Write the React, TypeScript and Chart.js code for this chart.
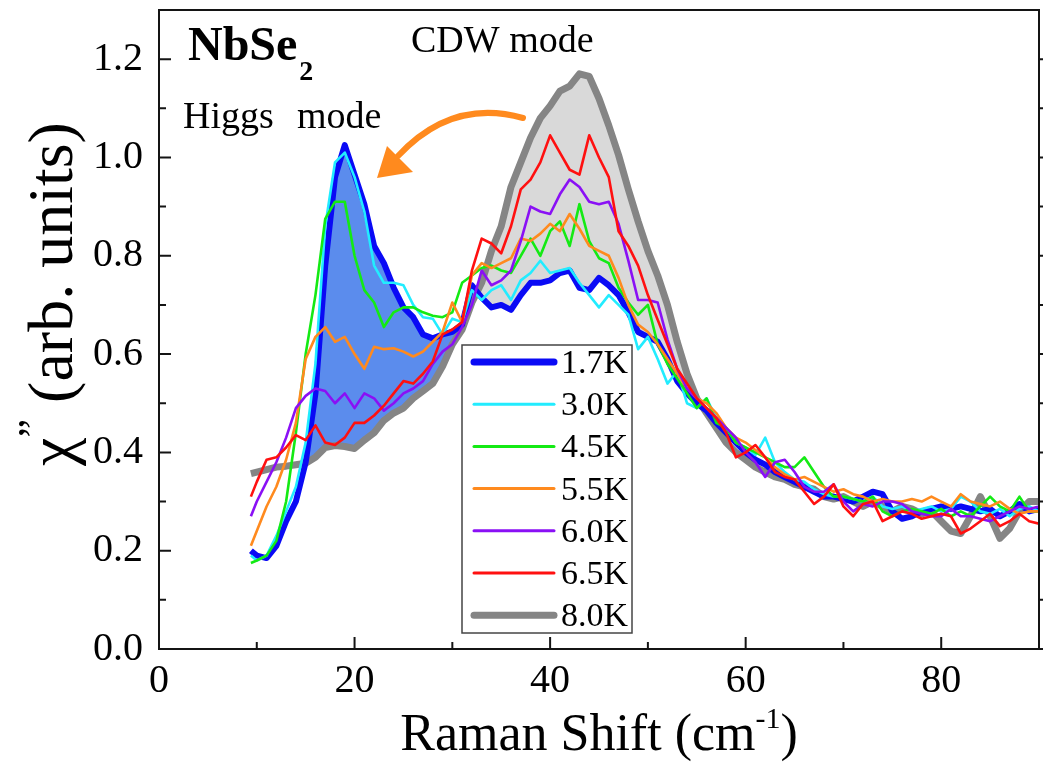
import React, { useEffect, useRef } from "react";
import { Chart, registerables } from "chart.js";

Chart.register(...registerables);

const FONT = '"Liberation Serif", "Times New Roman", serif';

// Raman shift (cm^-1), shared by every spectrum
const ramanShift = [
  9.4,
  10, 11, 12, 13, 14, 15, 16, 17, 18, 19,
  20, 21, 22, 23, 24, 25, 26, 27, 28, 29,
  30, 31, 32, 33, 34, 35, 36, 37, 38, 39,
  40, 41, 42, 43, 44, 45, 46, 47, 48, 49,
  50, 51, 52, 53, 54, 55, 56, 57, 58, 59,
  60, 61, 62, 63, 64, 65, 66, 67, 68, 69,
  70, 71, 72, 73, 74, 75, 76, 77, 78, 79,
  80, 81, 82, 83, 84, 85, 86, 87, 88, 89,
  90,
];

const chi_1_7K = [
  0.2,
  0.19, 0.185, 0.21, 0.26, 0.3, 0.38, 0.52, 0.78, 0.96, 1.025,
  0.965, 0.905, 0.82, 0.785, 0.735, 0.695, 0.675, 0.64, 0.632, 0.64,
  0.645, 0.66, 0.74, 0.715, 0.695, 0.7, 0.69, 0.72, 0.745, 0.745,
  0.75, 0.765, 0.77, 0.735, 0.73, 0.755, 0.74, 0.72, 0.685, 0.645,
  0.635, 0.625, 0.59, 0.545, 0.52, 0.5, 0.485, 0.46, 0.44, 0.42,
  0.4, 0.385, 0.375, 0.36, 0.35, 0.34, 0.33, 0.32, 0.31, 0.31,
  0.305, 0.3, 0.31, 0.32, 0.315, 0.28, 0.265, 0.27, 0.28, 0.285,
  0.29, 0.285, 0.29, 0.285, 0.28, 0.285, 0.27, 0.28, 0.295, 0.28,
  0.285,
];

const chi_3_0K = [
  0.19,
  0.18, 0.19, 0.23, 0.28, 0.33, 0.42, 0.58, 0.86, 0.99, 1.01,
  0.96, 0.89, 0.78, 0.745, 0.745, 0.74, 0.7, 0.675, 0.672, 0.64,
  0.672, 0.665, 0.73, 0.71, 0.73, 0.74, 0.71, 0.75, 0.765, 0.79,
  0.765, 0.77, 0.775, 0.745, 0.72, 0.695, 0.72, 0.7, 0.68, 0.61,
  0.635, 0.59, 0.54, 0.565, 0.5, 0.49, 0.51, 0.47, 0.45, 0.42,
  0.41, 0.395, 0.43, 0.38, 0.36, 0.345, 0.34, 0.325, 0.315, 0.31,
  0.31, 0.305, 0.3, 0.31, 0.29, 0.285, 0.29, 0.28, 0.285, 0.29,
  0.28, 0.285, 0.31, 0.3, 0.28, 0.275, 0.285, 0.27, 0.285, 0.29,
  0.28,
];

const chi_4_5K = [
  0.175,
  0.18, 0.19, 0.22, 0.3, 0.44, 0.6, 0.72, 0.875, 0.91, 0.91,
  0.8, 0.73, 0.705, 0.655, 0.685, 0.695, 0.695, 0.685, 0.678, 0.675,
  0.685, 0.745, 0.76, 0.775, 0.78, 0.77, 0.765, 0.8, 0.835, 0.8,
  0.85, 0.87, 0.82, 0.905, 0.83, 0.795, 0.785, 0.735, 0.705, 0.68,
  0.7, 0.62, 0.58, 0.55, 0.52, 0.49, 0.51, 0.46, 0.45, 0.42,
  0.41, 0.4, 0.39, 0.38, 0.37, 0.37, 0.39, 0.36, 0.33, 0.31,
  0.31, 0.305, 0.3, 0.31, 0.28, 0.27, 0.28, 0.285, 0.28, 0.275,
  0.285, 0.27, 0.28, 0.27, 0.29, 0.31, 0.29, 0.28, 0.31, 0.28,
  0.28,
];

const chi_5_5K = [
  0.21,
  0.24, 0.29, 0.33, 0.385, 0.46, 0.59, 0.635, 0.655, 0.625, 0.635,
  0.6, 0.57, 0.615, 0.61, 0.612, 0.605, 0.595, 0.605, 0.625, 0.645,
  0.705, 0.665, 0.76, 0.785, 0.775, 0.785, 0.795, 0.835, 0.83, 0.845,
  0.865, 0.85, 0.885, 0.855, 0.82, 0.81, 0.8, 0.755, 0.7, 0.66,
  0.645, 0.62, 0.59, 0.56, 0.53, 0.51, 0.5, 0.48, 0.45, 0.43,
  0.42, 0.405, 0.39, 0.37, 0.355, 0.345, 0.35, 0.34, 0.33, 0.32,
  0.325, 0.315, 0.31, 0.3, 0.305, 0.3, 0.3, 0.305, 0.3, 0.31,
  0.3, 0.29, 0.315, 0.3, 0.295, 0.29, 0.3, 0.285, 0.275, 0.28,
  0.28,
];

const chi_6_0K = [
  0.27,
  0.3, 0.34, 0.38, 0.43, 0.49, 0.515, 0.53, 0.525, 0.5, 0.52,
  0.49, 0.52, 0.51, 0.485, 0.5, 0.52, 0.53, 0.545, 0.58, 0.605,
  0.62, 0.655, 0.7, 0.77, 0.74, 0.75, 0.77, 0.83, 0.9, 0.89,
  0.885, 0.925, 0.955, 0.94, 0.91, 0.905, 0.91, 0.865, 0.79, 0.71,
  0.71, 0.705, 0.63, 0.57, 0.53, 0.51, 0.49, 0.47, 0.45, 0.43,
  0.4, 0.38, 0.35, 0.38, 0.385, 0.36, 0.33, 0.32, 0.32, 0.335,
  0.3, 0.28, 0.295, 0.29, 0.3, 0.3, 0.295, 0.28, 0.275, 0.27,
  0.27, 0.285, 0.27, 0.27, 0.265, 0.26, 0.27, 0.28, 0.29, 0.285,
  0.29,
];

const chi_6_5K = [
  0.31,
  0.34, 0.385, 0.39, 0.41, 0.435, 0.425, 0.455, 0.42, 0.415, 0.43,
  0.46, 0.46, 0.475, 0.495, 0.52, 0.545, 0.54, 0.56, 0.585, 0.64,
  0.65, 0.665, 0.77, 0.835, 0.825, 0.805, 0.86, 0.935, 0.955, 0.99,
  1.045, 1.01, 0.975, 0.965, 1.045, 1.0, 0.96, 0.85, 0.82, 0.78,
  0.72, 0.67, 0.62, 0.57, 0.54, 0.51, 0.49, 0.47, 0.44, 0.39,
  0.4, 0.415, 0.39, 0.36, 0.35, 0.345, 0.32, 0.295, 0.31, 0.335,
  0.29, 0.27, 0.295, 0.3, 0.26, 0.27, 0.28, 0.275, 0.265, 0.27,
  0.275, 0.27, 0.235, 0.245, 0.26, 0.275, 0.25, 0.26, 0.275, 0.26,
  0.255,
];

const chi_8_0K = [
  0.357,
  0.36, 0.365, 0.37, 0.372, 0.375, 0.378, 0.39, 0.41, 0.414, 0.412,
  0.408, 0.425, 0.44, 0.465, 0.48, 0.49, 0.51, 0.525, 0.54, 0.575,
  0.62, 0.65, 0.705, 0.745, 0.81, 0.86, 0.94, 0.99, 1.04, 1.08,
  1.105, 1.135, 1.145, 1.17, 1.165, 1.12, 1.065, 1.005, 0.935, 0.87,
  0.81, 0.76, 0.7, 0.625, 0.56, 0.51, 0.48, 0.45, 0.42, 0.4,
  0.385, 0.37, 0.36, 0.35, 0.345, 0.335, 0.33, 0.325, 0.31, 0.305,
  0.31, 0.3, 0.29, 0.3, 0.29, 0.28, 0.29, 0.285, 0.275, 0.28,
  0.26, 0.24, 0.235, 0.27, 0.31, 0.27, 0.225, 0.245, 0.28, 0.3,
  0.3,
];

const temperatureLabels = ["1.7K", "3.0K", "4.5K", "5.5K", "6.0K", "6.5K", "8.0K"];
const seriesValues = [chi_1_7K, chi_3_0K, chi_4_5K, chi_5_5K, chi_6_0K, chi_6_5K, chi_8_0K];
const seriesColors = ["#0a0af5", "#22ecff", "#14ea14", "#ff8a1e", "#8a10f5", "#ff1010", "#858585"];
const seriesWidths = [6, 2.6, 2.6, 2.6, 2.6, 2.6, 7];

const xTickValues = [0, 20, 40, 60, 80];
const xMinorValues = [10, 30, 50, 70];
const yTickValues = [0, 0.2, 0.4, 0.6, 0.8, 1.0, 1.2];
const yMinorValues = [0.1, 0.3, 0.5, 0.7, 0.9, 1.1];

const fillStartShift = 15;
const fillEndShift = 58;

const toPoints = (ys: number[]) => ramanShift.map((x, i) => ({ x, y: ys[i] }));

const decorPlugin = {
  id: "decor",
  afterDraw(chart: any) {
    const { ctx, chartArea: a, scales } = chart;
    const sx = scales.x;
    const sy = scales.y;
    ctx.save();

    // frame
    ctx.strokeStyle = "#141414";
    ctx.lineWidth = 2;
    ctx.strokeRect(a.left, a.top, a.right - a.left, a.bottom - a.top);

    // tick marks
    ctx.beginPath();
    for (const v of xTickValues) {
      const px = sx.getPixelForValue(v);
      ctx.moveTo(px, a.bottom);
      ctx.lineTo(px, a.bottom - 12);
    }
    for (const v of xMinorValues) {
      const px = sx.getPixelForValue(v);
      ctx.moveTo(px, a.bottom);
      ctx.lineTo(px, a.bottom - 7);
    }
    for (const v of yTickValues) {
      const py = sy.getPixelForValue(v);
      ctx.moveTo(a.left, py);
      ctx.lineTo(a.left + 12, py);
      ctx.moveTo(a.right, py);
      ctx.lineTo(a.right + 6, py);
    }
    for (const v of yMinorValues) {
      const py = sy.getPixelForValue(v);
      ctx.moveTo(a.left, py);
      ctx.lineTo(a.left + 7, py);
      ctx.moveTo(a.right, py);
      ctx.lineTo(a.right + 4, py);
    }
    ctx.stroke();

    ctx.fillStyle = "#000";
    ctx.textBaseline = "alphabetic";
    ctx.textAlign = "left";

    // NbSe2
    ctx.font = `bold 48px ${FONT}`;
    ctx.fillText("NbSe", 188, 60);
    const wNb = ctx.measureText("NbSe").width;
    ctx.font = `bold 28px ${FONT}`;
    ctx.fillText("2", 188 + wNb + 2, 80);

    // mode labels
    ctx.font = `38px ${FONT}`;
    ctx.fillText("CDW mode", 411, 52);
    ctx.font = `38px ${FONT}`;
    ctx.fillText("Higgs", 183, 128);
    ctx.fillText("mode", 297, 128);

    // orange arrow
    ctx.strokeStyle = "#ff8a1e";
    ctx.fillStyle = "#ff8a1e";
    ctx.lineWidth = 6;
    ctx.lineCap = "round";
    ctx.beginPath();
    ctx.moveTo(523, 118);
    ctx.quadraticCurveTo(452, 98, 398, 156);
    ctx.stroke();
    ctx.beginPath();
    ctx.moveTo(377, 178);
    ctx.lineTo(387, 146);
    ctx.lineTo(413, 172);
    ctx.closePath();
    ctx.fill();

    // legend
    const lx0 = 462, ly0 = 345, lx1 = 632, ly1 = 633;
    ctx.fillStyle = "#fff";
    ctx.fillRect(lx0, ly0, lx1 - lx0, ly1 - ly0);
    ctx.strokeStyle = "#444";
    ctx.lineWidth = 1.5;
    ctx.strokeRect(lx0, ly0, lx1 - lx0, ly1 - ly0);
    ctx.font = `34px ${FONT}`;
    ctx.textBaseline = "middle";
    temperatureLabels.forEach((lab, i) => {
      const cy = 362 + i * 42.2;
      ctx.strokeStyle = seriesColors[i];
      ctx.lineWidth = seriesWidths[i] >= 5 ? 7 : 3;
      ctx.lineCap = "round";
      ctx.beginPath();
      ctx.moveTo(474, cy);
      ctx.lineTo(554, cy);
      ctx.stroke();
      ctx.fillStyle = "#000";
      ctx.fillText(lab, 561, cy + 2);
    });

    // y axis title
    ctx.textBaseline = "alphabetic";
    ctx.save();
    ctx.translate(72, 294);
    ctx.rotate(-Math.PI / 2);
    const big = `64px ${FONT}`;
    const small = `42px ${FONT}`;
    ctx.font = big;
    const w1 = ctx.measureText("χ").width;
    ctx.font = small;
    const w2 = ctx.measureText("”").width;
    ctx.font = big;
    const w3 = ctx.measureText(" (arb. units)").width;
    const x0 = -(w1 + w2 + w3) / 2;
    ctx.fillStyle = "#000";
    ctx.font = big;
    ctx.fillText("χ", x0, 0);
    ctx.font = small;
    ctx.fillText("”", x0 + w1, -25);
    ctx.font = big;
    ctx.fillText(" (arb. units)", x0 + w1 + w2, 0);
    ctx.restore();

    // x axis title
    const xb = `52px ${FONT}`;
    const xs = `30px ${FONT}`;
    ctx.font = xb;
    const t1 = "Raman Shift (cm";
    const a1 = ctx.measureText(t1).width;
    const a3 = ctx.measureText(")").width;
    ctx.font = xs;
    const a2 = ctx.measureText("-1").width;
    const cx = (a.left + a.right) / 2;
    let xx = cx - (a1 + a2 + a3) / 2;
    ctx.fillStyle = "#000";
    ctx.font = xb;
    ctx.fillText(t1, xx, 750);
    xx += a1;
    ctx.font = xs;
    ctx.fillText("-1", xx, 728);
    xx += a2;
    ctx.font = xb;
    ctx.fillText(")", xx, 750);

    ctx.restore();
  },
};

export default function App() {
  const ref = useRef<HTMLCanvasElement | null>(null);

  useEffect(() => {
    if (!ref.current) return;
    const fromIdx = ramanShift.indexOf(fillStartShift);
    const toIdx = ramanShift.indexOf(fillEndShift) + 1;

    const lineSets = temperatureLabels.map((lab, i) => ({
      label: lab,
      data: toPoints(seriesValues[i]),
      borderColor: seriesColors[i],
      borderWidth: seriesWidths[i],
      pointRadius: 0,
      tension: 0,
      fill: false,
      borderJoinStyle: "round" as const,
    }));
    // draw order: thin ones on top
    const ordered = [lineSets[5], lineSets[4], lineSets[3], lineSets[2], lineSets[1], lineSets[0], lineSets[6]];
    const fillTarget = {
      label: "fill-8K",
      data: toPoints(chi_8_0K).slice(fromIdx, toIdx),
      borderWidth: 0,
      borderColor: "rgba(0,0,0,0)",
      pointRadius: 0,
      fill: false,
    };
    const fillSource = {
      label: "fill-1.7K",
      data: toPoints(chi_1_7K).slice(fromIdx, toIdx),
      borderWidth: 0,
      borderColor: "rgba(0,0,0,0)",
      pointRadius: 0,
      fill: { target: ordered.length, above: "#5b8ced", below: "#d9d9d9" },
    };

    const chart = new Chart(ref.current, {
      type: "line",
      data: { datasets: [...ordered, fillTarget, fillSource] as any },
      options: {
        responsive: false,
        animation: false,
        devicePixelRatio: 1,
        events: [],
        layout: { padding: { top: 10, right: 4, left: 0, bottom: 0 } },
        plugins: { legend: { display: false }, tooltip: { enabled: false } },
        scales: {
          x: {
            type: "linear",
            min: 0,
            max: 90,
            grid: { display: false, drawTicks: false },
            border: { display: false },
            afterBuildTicks: (s: any) => {
              s.ticks = xTickValues.map((v) => ({ value: v }));
            },
            afterFit: (s: any) => {
              s.height = 113;
              s.paddingLeft = 0;
              s.paddingRight = 0;
            },
            ticks: {
              color: "#000",
              padding: 8,
              maxRotation: 0,
              autoSkip: false,
              font: { family: FONT, size: 40 },
              callback: (v: any) => String(v),
            },
          },
          y: {
            type: "linear",
            min: 0,
            max: 1.3,
            grid: { display: false, drawTicks: false },
            border: { display: false },
            afterBuildTicks: (s: any) => {
              s.ticks = yTickValues.map((v) => ({ value: v }));
            },
            afterFit: (s: any) => {
              s.width = 159;
              s.paddingTop = 0;
              s.paddingBottom = 0;
            },
            ticks: {
              color: "#000",
              padding: 16,
              autoSkip: false,
              font: { family: FONT, size: 40 },
              callback: (v: any) => Number(v).toFixed(1),
            },
          },
        },
      },
      plugins: [decorPlugin],
    });
    return () => chart.destroy();
  }, []);

  return (
    <div style={{ position: "absolute", left: 0, top: 0, width: 1043, height: 762, background: "#fff" }}>
      <canvas ref={ref} width={1043} height={762} style={{ display: "block", width: 1043, height: 762 }} />
    </div>
  );
}
